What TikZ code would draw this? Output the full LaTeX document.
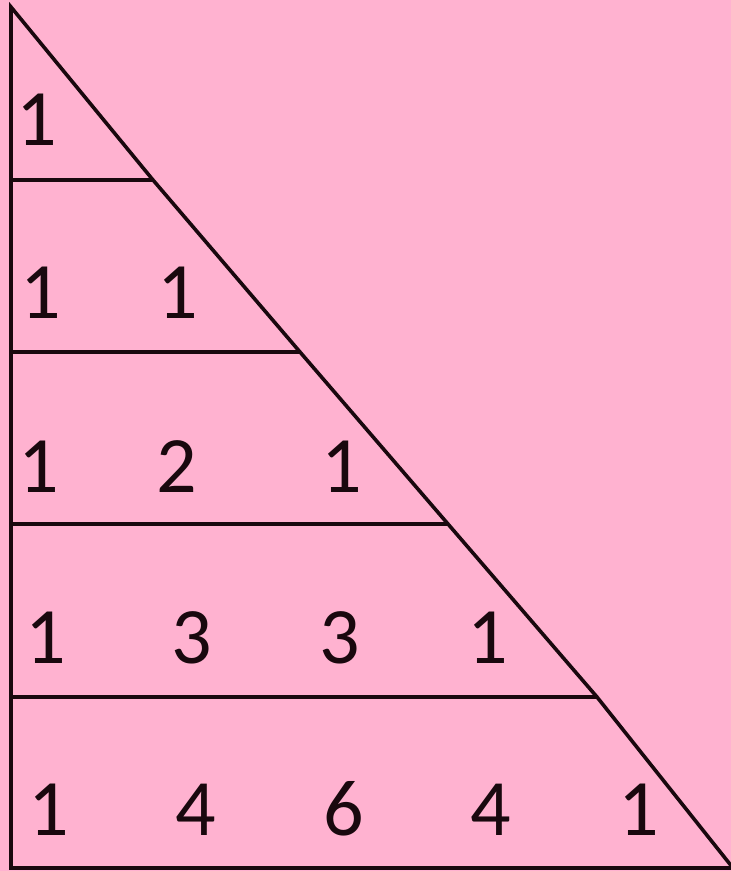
\documentclass[tikz,border=0pt]{standalone}
\usepackage{fontspec}
\setmainfont{Carlito}
\definecolor{bgpink}{RGB}{255,178,208}
\definecolor{inkline}{RGB}{25,8,14}
\tikzset{
  num/.style={anchor=base, inner sep=0pt, text=inkline, font=\fontsize{80}{86}\selectfont},
  edge/.style={draw=inkline, line width=3.6pt, line join=miter}
}
\begin{document}
\begin{tikzpicture}[x=1pt,y=-1pt]
\fill[bgpink] (0,0) rectangle (731,871);
\useasboundingbox (0,0) rectangle (731,871);
\coordinate (top) at (11,7);
\coordinate (bl) at (11,868);
\coordinate (br) at (733,868);
\coordinate (h1) at (153,180);
\coordinate (h2) at (300,352);
\coordinate (h3) at (448,524);
\coordinate (h4) at (597,697);
\coordinate (l1) at (11,180);
\coordinate (l2) at (11,352);
\coordinate (l3) at (11,524);
\coordinate (l4) at (11,697);
\draw[edge] (bl) -- (top) -- (h1) -- (h2) -- (h3) -- (h4) -- (br) -- cycle;
\draw[edge] (l1) -- (h1);
\draw[edge] (l2) -- (h2);
\draw[edge] (l3) -- (h3);
\draw[edge] (l4) -- (h4);
% row 1
\node[num] (a11) at (37,145) {1};
% row 2
\node[num] (a21) at (41,318) {1};
\node[num] (a22) at (178,318) {1};
% row 3
\node[num] (a31) at (39,492) {1};
\node[num] (a32) at (177,492) {2};
\node[num] (a33) at (342,492) {1};
% row 4
\node[num] (a41) at (46,663) {1};
\node[num] (a42) at (192,663) {3};
\node[num] (a43) at (340,663) {3};
\node[num] (a44) at (488,663) {1};
% row 5
\node[num] (a51) at (49,835) {1};
\node[num] (a52) at (196,835) {4};
\node[num] (a53) at (344,835) {6};
\node[num] (a54) at (491,835) {4};
\node[num] (a55) at (639,835) {1};
\end{tikzpicture}
\end{document}
